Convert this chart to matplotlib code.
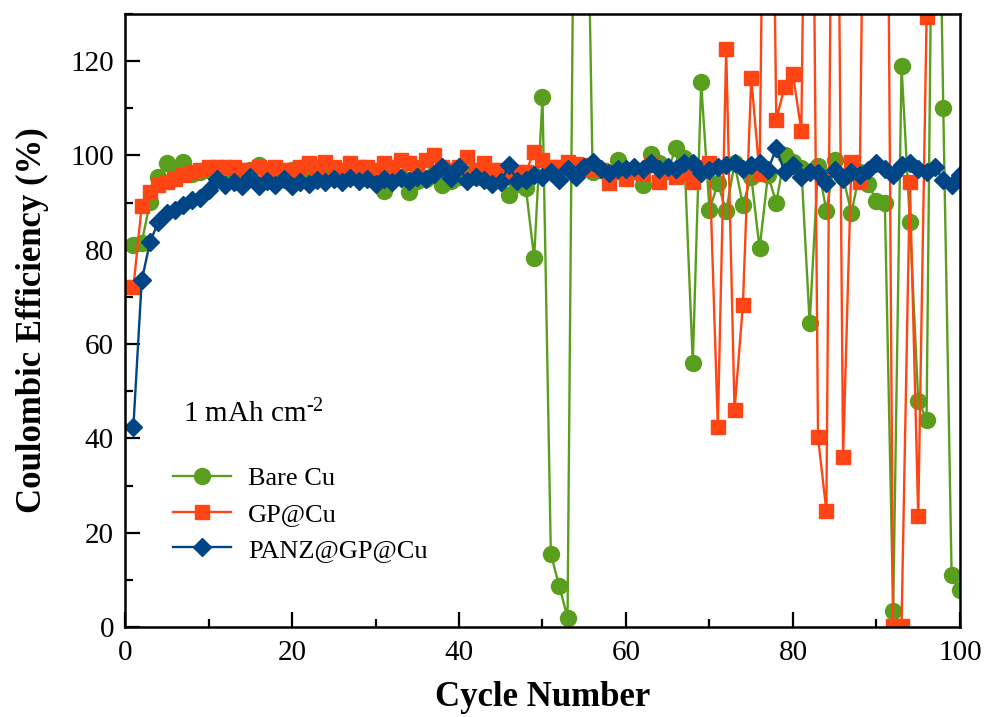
import matplotlib
matplotlib.use("Agg")
import matplotlib.pyplot as plt
from matplotlib.ticker import MultipleLocator

plt.rcParams['font.family'] = ['Liberation Serif', 'DejaVu Serif']
plt.rcParams['mathtext.fontset'] = 'custom'
plt.rcParams['mathtext.rm'] = 'Liberation Serif'
plt.rcParams['mathtext.default'] = 'regular'

cycles = list(range(1, 101))

# coulombic efficiency (%) per cycle; values above 130 run off the top of the plot
bare_cu = [
    81.0, 81.5, 90.2, 95.5, 98.3, 96.0, 98.6, 96.0, 96.5, 97.0,
    97.0, 96.5, 97.0, 96.5, 97.0, 97.9, 96.5, 97.0, 96.5, 97.0,
    96.5, 97.0, 96.5, 97.5, 97.0, 96.0, 97.0, 96.5, 96.0, 95.0,
    92.5, 95.0, 95.5, 92.3, 94.5, 95.0, 96.0, 93.7, 94.5, 95.5,
    96.0, 95.5, 95.5, 94.5, 95.0, 91.6, 94.0, 93.2, 78.3, 112.3,
    15.5, 8.7, 2.0, 210.0, 200.0, 96.5, 97.0, 96.0, 99.0, 96.5,
    97.0, 93.7, 100.4, 98.5, 97.0, 101.5, 99.4, 56.0, 115.5, 88.4,
    94.1, 88.2, 98.3, 89.5, 95.5, 80.3, 95.8, 90.0, 100.0, 98.6,
    97.4, 64.4, 97.8, 88.3, 99.0, 95.4, 87.8, 96.5, 94.0, 90.3,
    90.0, 3.5, 119.0, 85.8, 48.0, 44.0, 220.0, 110.0, 11.0, 7.8,
]
gp_cu = [
    72.0, 89.3, 92.3, 93.7, 94.4, 95.1, 95.8, 96.5, 97.0, 97.5,
    97.5, 97.5, 97.5, 97.0, 97.0, 97.5, 97.0, 97.5, 97.0, 97.0,
    97.5, 98.3, 97.5, 98.6, 97.5, 97.0, 98.3, 97.5, 97.6, 97.0,
    98.3, 97.5, 99.0, 98.3, 97.5, 99.0, 100.0, 97.5, 96.9, 97.5,
    99.7, 97.0, 98.3, 97.0, 96.9, 96.0, 96.5, 96.5, 100.8, 99.0,
    97.6, 97.5, 98.6, 98.1, 98.0, 97.2, 97.0, 94.1, 96.5, 95.1,
    96.5, 96.0, 98.0, 94.4, 96.5, 95.5, 96.0, 94.4, 97.5, 98.3,
    42.5, 122.5, 46.0, 68.3, 116.5, 96.0, 250.0, 107.6, 114.6, 117.2,
    105.2, 250.0, 40.2, 24.6, 250.0, 36.0, 98.6, 94.3, 250.0, 250.0,
    250.0, 0.3, 0.3, 94.3, 23.5, 129.3, 250.0, 250.0, 250.0, 250.0,
]
panz_gp_cu = [
    42.5, 73.5, 81.7, 85.9, 87.7, 88.4, 89.5, 90.5, 90.9, 92.6,
    95.1, 93.7, 94.3, 93.5, 95.5, 93.5, 94.5, 93.7, 95.0, 93.5,
    94.3, 94.0, 94.8, 94.3, 95.0, 94.3, 95.3, 94.5, 95.0, 94.0,
    95.0, 94.3, 95.2, 94.5, 95.5, 95.0, 96.0, 97.5, 95.3, 97.5,
    94.5, 95.5, 94.8, 94.0, 94.3, 97.9, 94.5, 94.8, 95.8, 95.5,
    96.5, 94.8, 97.2, 95.5, 97.6, 98.6, 97.2, 96.2, 97.2, 97.2,
    97.6, 97.2, 98.3, 97.2, 97.6, 97.2, 98.3, 98.3, 96.2, 96.9,
    97.6, 97.9, 98.3, 97.2, 97.9, 98.3, 96.9, 101.5, 96.5, 97.9,
    95.5, 96.5, 96.2, 94.1, 96.9, 95.1, 96.5, 95.8, 96.9, 98.3,
    97.2, 95.8, 97.9, 98.3, 97.2, 96.5, 97.6, 94.8, 93.7, 95.8,
]

series = [
    ("Bare Cu", bare_cu, "#5A9E1E", "o", 11.5),
    ("GP@Cu", gp_cu, "#FF4513", "s", 10.5),
    ("PANZ@GP@Cu", panz_gp_cu, "#004586", "D", 9),
]

fig = plt.figure(figsize=(9.86, 7.17), dpi=100)
ax = fig.add_axes([0.1268, 0.1255, 0.8468, 0.855])

for name, vals, color, marker, ms in series:
    ax.plot(cycles, vals, color=color, marker=marker, markersize=ms,
            linewidth=1.7, label=name)

ax.set_xlim(0, 100)
ax.set_ylim(0, 130)
ax.xaxis.set_major_locator(MultipleLocator(20))
ax.xaxis.set_minor_locator(MultipleLocator(10))
ax.yaxis.set_major_locator(MultipleLocator(20))
ax.yaxis.set_minor_locator(MultipleLocator(10))
ax.tick_params(which='both', direction='in', top=False, right=False,
               width=1.6, labelsize=21)
ax.tick_params(which='major', length=11)
ax.tick_params(which='minor', length=6)
ax.tick_params(axis='x', which='major', pad=9)
ax.tick_params(axis='y', which='major', pad=8)
for sp in ax.spines.values():
    sp.set_linewidth(1.8)

ax.set_xlabel("Cycle Number", fontsize=25, fontweight='bold', labelpad=11)
ax.set_ylabel("Coulombic Efficiency (%)", fontsize=25, fontweight='bold', labelpad=15)

ax.text(6.9, 43.5, r"1 mAh cm$^{\text{-2}}$", fontsize=21)

ax.legend(loc='upper left', bbox_to_anchor=(0.035, 0.292), frameon=False,
          fontsize=19, handlelength=2.2, handletextpad=0.65, labelspacing=0.47,
          borderaxespad=0.3)

fig.savefig("out.png", dpi=100)
